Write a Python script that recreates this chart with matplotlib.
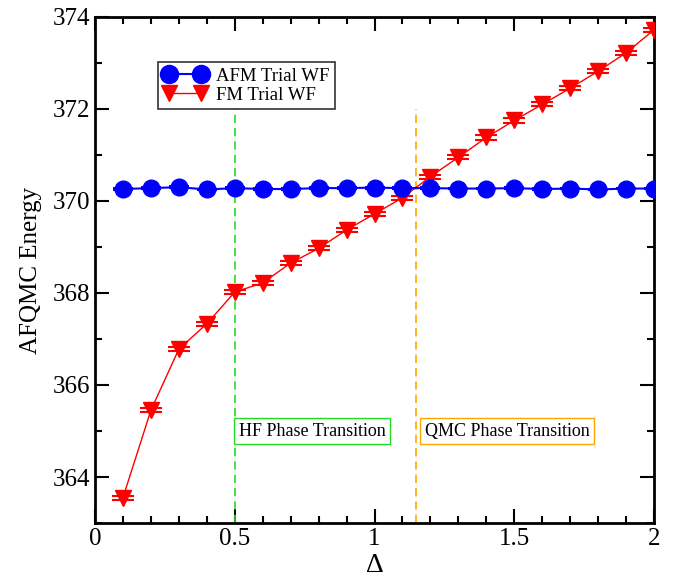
import matplotlib
matplotlib.use("Agg")
import matplotlib.pyplot as plt
from matplotlib.lines import Line2D
from matplotlib.ticker import MultipleLocator, FixedLocator

plt.rcParams['font.family'] = ['Liberation Serif', 'DejaVu Serif']

delta = [0.1, 0.2, 0.3, 0.4, 0.5, 0.6, 0.7, 0.8, 0.9, 1.0,
         1.1, 1.2, 1.3, 1.4, 1.5, 1.6, 1.7, 1.8, 1.9, 2.0]
afm_energy = [370.26, 370.28, 370.30, 370.25, 370.28, 370.26, 370.26, 370.28, 370.28, 370.29,
              370.28, 370.28, 370.27, 370.27, 370.28, 370.26, 370.27, 370.25, 370.27, 370.27]
afm_err = [0.02] * 20
fm_energy = [363.55, 365.45, 366.78, 367.33, 368.02, 368.22, 368.65, 368.97, 369.37, 369.72,
             370.07, 370.53, 370.95, 371.38, 371.75, 372.10, 372.45, 372.82, 373.22, 373.72]
fm_err = [0.045] * 20

hf_transition = 0.5
qmc_transition = 1.15

fig = plt.figure(figsize=(6.76, 5.79), dpi=100)
ax = fig.add_axes([0.1405, 0.0967, 0.827, 0.874])

ax.errorbar(delta, afm_energy, yerr=afm_err, color='blue', marker='o', markersize=12,
            lw=1.5, capsize=7, elinewidth=1.5, capthick=1.5, zorder=4)
ax.errorbar(delta, fm_energy, yerr=fm_err, color='red', marker='v', markersize=11,
            lw=1, capsize=8, elinewidth=1.5, capthick=1.5, zorder=3)

ax.plot([hf_transition, hf_transition], [363, 372], color='#22dd22', lw=1.2, ls=(0, (5, 3)), zorder=2)
ax.plot([qmc_transition, qmc_transition], [363, 372], color='orange', lw=1.2, ls=(0, (5, 3)), zorder=2)

ax.text(0.515, 365.0, 'HF Phase Transition', fontsize=13, va='center', ha='left',
        bbox=dict(boxstyle='square,pad=0.25', fc='white', ec='#22dd22', lw=1))
ax.text(1.18, 365.0, 'QMC Phase Transition', fontsize=13, va='center', ha='left',
        bbox=dict(boxstyle='square,pad=0.25', fc='white', ec='orange', lw=1))

ax.set_xlim(0, 2)
ax.set_ylim(363, 374)
ax.xaxis.set_major_locator(FixedLocator([0, 0.5, 1, 1.5, 2]))
ax.set_xticklabels(['0', '0.5', '1', '1.5', '2'])
ax.xaxis.set_minor_locator(MultipleLocator(0.1))
ax.yaxis.set_major_locator(MultipleLocator(2))
ax.yaxis.set_minor_locator(MultipleLocator(1))
ax.tick_params(which='both', direction='in', top=True, right=True, width=1.5)
ax.tick_params(which='major', length=10, labelsize=18)
ax.tick_params(which='minor', length=5)
for s in ax.spines.values():
    s.set_linewidth(2)

ax.set_xlabel('Δ', fontsize=20, labelpad=2)
ax.set_ylabel('AFQMC Energy', fontsize=18, labelpad=8)

handles = [Line2D([], [], color='blue', marker='o', markersize=13, lw=1.5),
           Line2D([], [], color='red', marker='v', markersize=12, lw=1)]
leg = ax.legend(handles, ['AFM Trial WF', 'FM Trial WF'], loc='upper left',
                bbox_to_anchor=(0.113, 0.911), fontsize=13.5, frameon=True, numpoints=2,
                fancybox=False, edgecolor='black', borderpad=0.3, handlelength=2.3,
                labelspacing=0.1, borderaxespad=0, handletextpad=0.5)
leg.get_frame().set_linewidth(1.2)

fig.savefig('out.png', dpi=100)
